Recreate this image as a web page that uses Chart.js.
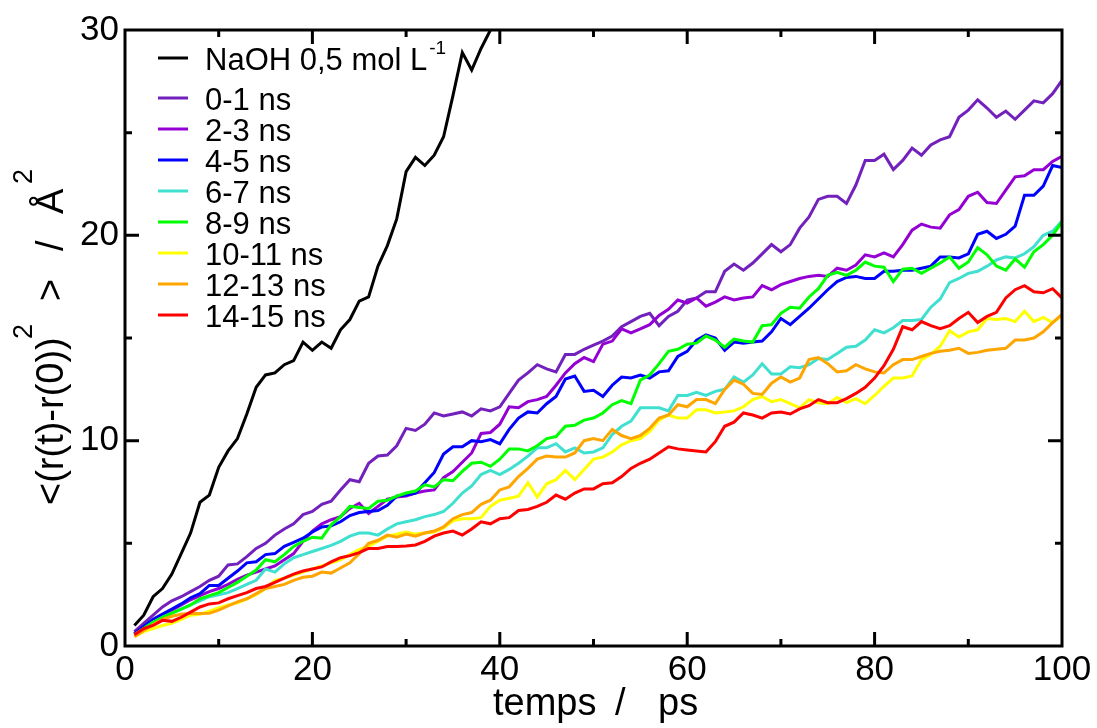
<!DOCTYPE html>
<html lang="fr">
<head>
    <meta charset="UTF-8">
    <title>MSD NaOH</title>
    <script src="https://cdn.jsdelivr.net/npm/chart.js@4.4.1/dist/chart.umd.min.js"></script>
    <style>
        html, body { margin: 0; padding: 0; background: #fff; }
        #wrap { width: 1097px; height: 728px; }
    </style>
</head>
<body>
    <div id="wrap"><canvas id="msdChart" width="1097" height="728"></canvas></div>
    <script>
        // time axis (ps)
        const temps = [1,2,3,4,5,6,7,8,9,10,11,12,13,14,15,16,17,18,19,20,
            21,22,23,24,25,26,27,28,29,30,31,32,33,34,35,36,37,38,39,40,
            41,42,43,44,45,46,47,48,49,50,51,52,53,54,55,56,57,58,59,60,
            61,62,63,64,65,66,67,68,69,70,71,72,73,74,75,76,77,78,79,80,
            81,82,83,84,85,86,87,88,89,90,91,92,93,94,95,96,97,98,99,100];

        const xTicksMajor = [20, 40, 60, 80];
        const xTicksMinor = [10, 30, 50, 70, 90];
        const yTicksMajor = [10, 20];
        const yTicksMinor = [5, 15, 25];

        const seriesLabels = ["NaOH 0,5 mol L", "0-1 ns", "2-3 ns", "4-5 ns", "6-7 ns", "8-9 ns", "10-11 ns", "12-13 ns", "14-15 ns"];
        const seriesColors = ["#000000", "#7221bc", "#9400d3", "#0000ff", "#40e0d0", "#00ff00", "#ffff00", "#ffa500", "#ff0000"];

        // black curve leaves the frame after ~39 ps
        const naoh = [1.0,1.5,2.4,2.8,3.5,4.5,5.5,7.0,7.35,8.7,
            9.5,10.1,11.3,12.6,13.2,13.3,13.7,13.9,14.8,14.4,
            14.8,14.5,15.4,15.9,16.8,17.0,18.5,19.5,20.8,23.1,
            23.8,23.4,23.9,24.8,26.8,28.9,28.05,29.1,30.0,30.9];

        const ns01 = [0.7,1.1,1.5,1.9,2.2,2.4,2.65,2.9,3.2,3.4,
            3.95,4.0,4.35,4.75,5.0,5.4,5.7,5.95,6.4,6.55,
            6.9,7.05,7.6,8.1,8.0,8.9,9.25,9.3,9.75,10.6,
            10.5,10.8,11.35,11.2,11.3,11.4,11.2,11.55,11.45,11.65,
            12.3,12.95,13.3,13.7,13.5,13.35,14.2,14.2,14.45,14.65,
            14.85,15.1,15.55,15.8,16.05,16.2,15.6,16.05,16.3,16.85,
            16.95,17.25,17.25,18.25,18.6,18.3,18.65,19.1,19.55,19.2,
            19.55,20.35,20.9,21.75,21.9,21.9,21.55,22.45,23.65,23.65,
            23.95,23.2,23.65,24.25,23.9,24.4,24.65,24.8,25.75,26.1,
            26.6,26.2,25.75,26.05,25.65,26.1,26.55,26.45,26.9,27.55];

        const ns23 = [0.6,0.95,1.25,1.5,1.75,2.0,2.25,2.45,2.65,2.8,
            3.0,3.25,3.45,3.6,3.75,3.9,4.2,4.5,5.1,5.6,
            5.95,6.15,6.3,6.7,6.95,6.45,6.8,7.15,7.25,7.3,
            7.45,7.55,7.6,8.2,8.5,8.95,9.4,10.35,10.4,10.8,
            11.65,11.6,11.9,12.0,12.15,12.7,13.3,13.75,14.05,13.85,
            14.7,14.85,15.45,15.25,15.45,15.65,16.1,16.4,16.85,16.7,
            16.95,16.55,16.75,17.0,16.85,16.95,17.0,17.55,17.35,17.6,
            17.75,17.9,18.0,18.05,18.0,18.4,18.3,18.55,19.05,18.95,
            19.15,18.95,19.55,20.25,20.55,20.4,20.35,21.0,21.25,21.9,
            22.1,21.6,21.55,22.2,22.85,22.9,23.2,23.2,23.6,23.85];

        const ns45 = [0.6,0.95,1.3,1.55,1.8,2.05,2.35,2.55,2.95,2.95,
            3.3,3.65,4.05,4.1,4.45,4.5,4.85,5.05,5.25,5.55,
            5.8,5.85,6.05,6.35,6.5,6.55,6.6,6.85,7.3,7.35,
            7.45,7.95,8.45,9.35,9.7,9.7,10.0,9.95,10.05,9.85,
            10.55,11.1,11.4,11.35,11.8,12.15,13.0,13.15,12.4,12.45,
            12.15,12.7,13.1,13.05,13.2,13.05,13.35,13.4,14.1,14.35,
            14.9,15.15,15.0,14.4,14.8,14.75,14.8,14.85,15.3,15.95,
            15.65,16.05,16.45,16.9,17.35,17.75,17.95,18.0,17.9,17.9,
            18.25,18.25,18.3,18.3,18.4,18.5,18.95,18.95,18.9,19.1,
            20.05,20.2,19.85,20.05,20.45,21.95,21.95,22.4,23.4,23.3];

        const ns67 = [0.55,0.85,1.15,1.4,1.6,1.8,2.0,2.2,2.4,2.5,
            2.6,2.8,3.0,3.2,3.75,3.6,4.0,4.3,4.45,4.6,
            4.75,4.9,5.1,5.35,5.5,5.5,5.4,5.7,5.95,6.05,
            6.15,6.3,6.4,6.55,6.95,7.45,7.8,8.35,8.55,8.35,
            8.6,8.9,9.25,9.65,9.65,9.85,9.45,9.65,9.4,9.45,
            9.65,10.3,10.7,10.95,11.6,11.6,11.6,11.45,12.2,12.2,
            12.35,12.2,12.4,12.5,13.1,12.85,13.2,13.75,13.25,13.25,
            13.6,13.55,13.7,14.0,13.95,14.25,14.55,14.6,14.9,15.4,
            15.25,15.5,15.85,15.85,15.9,16.5,16.9,17.7,17.9,18.15,
            18.25,18.5,18.8,18.95,18.9,19.1,19.45,20.0,20.2,20.7];

        const ns89 = [0.55,0.85,1.15,1.4,1.6,1.8,2.0,2.3,2.45,2.6,
            2.85,3.1,3.4,3.7,4.2,4.1,4.45,4.85,5.1,5.3,
            5.25,5.9,6.3,6.8,6.75,6.7,7.05,7.1,7.3,7.45,
            7.55,7.85,7.75,8.1,8.05,8.5,8.9,8.95,8.75,9.1,
            9.6,9.6,9.5,9.75,10.1,10.2,10.7,10.75,11.0,11.1,
            11.35,11.75,11.95,11.8,12.95,13.2,13.75,14.35,14.45,14.7,
            14.75,15.1,14.9,14.55,14.95,14.85,14.8,15.6,15.65,16.2,
            16.5,16.45,17.0,17.4,18.05,18.2,18.05,18.3,18.7,18.5,
            18.45,17.75,18.35,18.4,18.15,18.4,18.65,18.95,18.4,18.7,
            19.4,19.05,18.5,18.3,18.85,18.45,19.2,19.55,20.0,20.65];

        const ns1011 = [0.45,0.7,0.85,1.0,1.1,1.3,1.5,1.55,1.7,1.85,
            2.0,2.1,2.3,2.5,2.8,3.2,3.3,3.45,3.6,3.75,
            3.9,4.05,4.2,4.45,4.7,4.85,5.1,5.35,5.45,5.55,
            5.45,5.5,5.55,5.75,6.1,6.2,6.2,6.25,6.8,7.1,
            7.2,7.3,7.95,7.25,7.9,8.1,8.55,8.1,8.6,9.1,
            9.2,9.45,9.8,10.0,10.1,10.45,11.0,11.25,11.1,11.1,
            11.5,11.5,11.35,11.4,11.45,11.65,12.0,12.15,11.9,12.0,
            11.8,11.6,12.0,11.85,11.8,12.1,11.85,12.05,11.8,12.2,
            12.65,13.05,13.05,13.15,13.95,14.2,14.6,15.35,15.05,15.3,
            15.4,15.95,15.9,15.95,15.8,16.3,15.8,16.0,15.75,16.1];

        const ns1213 = [0.45,0.75,1.05,1.3,1.45,1.55,1.6,1.58,1.6,1.75,
            1.95,2.15,2.3,2.55,2.8,2.9,3.0,3.2,3.35,3.4,
            3.6,3.55,3.8,4.05,4.5,5.0,5.15,5.4,5.3,5.45,
            5.35,5.5,5.6,5.8,6.2,6.4,6.5,6.9,7.1,7.6,
            7.75,8.25,8.65,9.1,9.25,9.2,9.2,9.4,10.0,10.1,
            10.0,10.55,10.25,10.1,10.25,10.6,11.1,11.25,11.75,11.65,
            12.0,12.0,11.8,12.5,12.95,12.75,12.3,12.25,12.8,13.1,
            12.85,13.05,13.95,14.05,13.75,13.35,13.4,13.7,13.5,13.35,
            13.3,13.7,13.95,13.95,14.1,14.25,14.35,14.4,14.5,14.25,
            14.3,14.4,14.45,14.5,14.9,14.9,15.0,15.3,15.75,16.15];

        const ns1415 = [0.55,0.85,1.0,1.25,1.2,1.4,1.65,1.9,2.05,2.1,
            2.3,2.45,2.6,2.8,2.9,3.1,3.3,3.5,3.65,3.75,
            3.85,4.1,4.3,4.4,4.55,4.75,4.75,4.85,4.85,4.87,
            4.92,5.1,5.35,5.5,5.6,5.4,5.7,6.05,5.95,6.2,
            6.25,6.6,6.65,6.8,7.0,7.35,7.15,7.45,7.65,7.65,
            7.9,7.95,8.25,8.65,8.9,9.1,9.4,9.7,9.6,9.55,
            9.5,9.45,9.95,10.7,10.9,11.35,11.25,11.1,11.35,11.4,
            11.3,11.55,11.7,12.0,11.85,11.85,12.05,12.3,12.6,13.05,
            13.65,14.45,15.55,15.4,15.8,15.6,15.45,15.6,15.95,16.25,
            15.75,16.05,16.25,16.95,17.35,17.55,17.25,17.2,17.4,16.95];

        const seriesValues = [naoh, ns01, ns23, ns45, ns67, ns89, ns1011, ns1213, ns1415];

        const FONT = "'Liberation Sans', Arial, Helvetica, sans-serif";
        Chart.defaults.font.family = FONT;
        Chart.defaults.color = "#000";

        const datasets = seriesValues.map((vals, i) => ({
            label: seriesLabels[i],
            data: vals.map((v, k) => ({ x: temps[k], y: v })),
            borderColor: seriesColors[i],
            backgroundColor: seriesColors[i],
            borderWidth: 3,
            pointRadius: 0,
            tension: 0,
            fill: false,
            clip: 0,
            order: seriesValues.length - i, // later series on top
        }));

        // frame with inward ticks on all four sides
        const framePlugin = {
            id: "frame",
            afterDatasetsDraw(chart) {
                const { ctx, chartArea: a, scales: { x, y } } = chart;
                ctx.save();
                ctx.strokeStyle = "#000";
                ctx.lineWidth = 3;
                ctx.lineCap = "butt";
                ctx.beginPath();
                const xt = (vals, len) => vals.forEach(v => {
                    const px = x.getPixelForValue(v);
                    ctx.moveTo(px, a.bottom); ctx.lineTo(px, a.bottom - len);
                    ctx.moveTo(px, a.top); ctx.lineTo(px, a.top + len);
                });
                const yt = (vals, len) => vals.forEach(v => {
                    const py = y.getPixelForValue(v);
                    ctx.moveTo(a.left, py); ctx.lineTo(a.left + len, py);
                    ctx.moveTo(a.right, py); ctx.lineTo(a.right - len, py);
                });
                xt(xTicksMajor, 14); xt(xTicksMinor, 7);
                yt(yTicksMajor, 14); yt(yTicksMinor, 7);
                ctx.stroke();
                ctx.strokeRect(a.left, a.top, a.right - a.left, a.bottom - a.top);
                ctx.restore();
            }
        };

        // legend + axis titles (need superscripts)
        const textPlugin = {
            id: "texts",
            afterDraw(chart) {
                const ctx = chart.ctx;
                ctx.save();
                ctx.fillStyle = "#000";
                ctx.textBaseline = "alphabetic";
                ctx.textAlign = "left";

                // legend
                chart.data.datasets.forEach((ds, i) => {
                    const ly = i === 0 ? 58 : 98 + (i - 1) * 31;
                    ctx.strokeStyle = ds.borderColor;
                    ctx.lineWidth = 3;
                    ctx.beginPath();
                    ctx.moveTo(158, ly); ctx.lineTo(188, ly);
                    ctx.stroke();
                    ctx.font = "31px " + FONT;
                    ctx.fillText(ds.label, 205, ly + 12);
                    if (i === 0) {
                        const w = ctx.measureText(ds.label).width;
                        ctx.font = "19px " + FONT;
                        ctx.fillText("-1", 205 + w + 2, ly - 4);
                    }
                });

                // x title
                ctx.font = "38px " + FONT;
                ctx.fillText("temps", 493, 715);
                ctx.fillText("/", 615, 715);
                ctx.fillText("ps", 658, 715);

                // y title, rotated
                ctx.translate(63, 505);
                ctx.rotate(-Math.PI / 2);
                const pieces = [
                    { t: "<(r(t)-r(0))", at: 0, sup: false },
                    { t: "2", at: 166, sup: true },
                    { t: ">", at: 204, sup: false },
                    { t: "/", at: 254, sup: false },
                    { t: "\u00C5", at: 291, sup: false },
                    { t: "2", at: 321, sup: true },
                ];
                pieces.forEach(p => {
                    ctx.font = (p.sup ? "27px " : "38px ") + FONT;
                    ctx.fillText(p.t, p.at, p.sup ? -31 : 0);
                });
                ctx.restore();
            }
        };

        new Chart(document.getElementById("msdChart").getContext("2d"), {
            type: "line",
            data: { datasets: datasets },
            options: {
                responsive: false,
                animation: false,
                devicePixelRatio: 1,
                layout: { padding: { top: 30, right: 35, left: 0, bottom: 0 } },
                plugins: {
                    legend: { display: false },
                    tooltip: { enabled: false },
                },
                scales: {
                    x: {
                        type: "linear",
                        min: 0,
                        max: 100,
                        ticks: { stepSize: 20, padding: 3, maxRotation: 0, font: { size: 35 }, color: "#000" },
                        grid: { display: false, drawTicks: false },
                        border: { display: false },
                        afterFit: s => { s.height = 82; },
                    },
                    y: {
                        type: "linear",
                        min: 0,
                        max: 30,
                        ticks: { stepSize: 10, padding: 6, font: { size: 35 }, color: "#000" },
                        grid: { display: false, drawTicks: false },
                        border: { display: false },
                        afterFit: s => { s.width = 125; },
                    },
                },
            },
            plugins: [framePlugin, textPlugin],
        });
    </script>
</body>
</html>
